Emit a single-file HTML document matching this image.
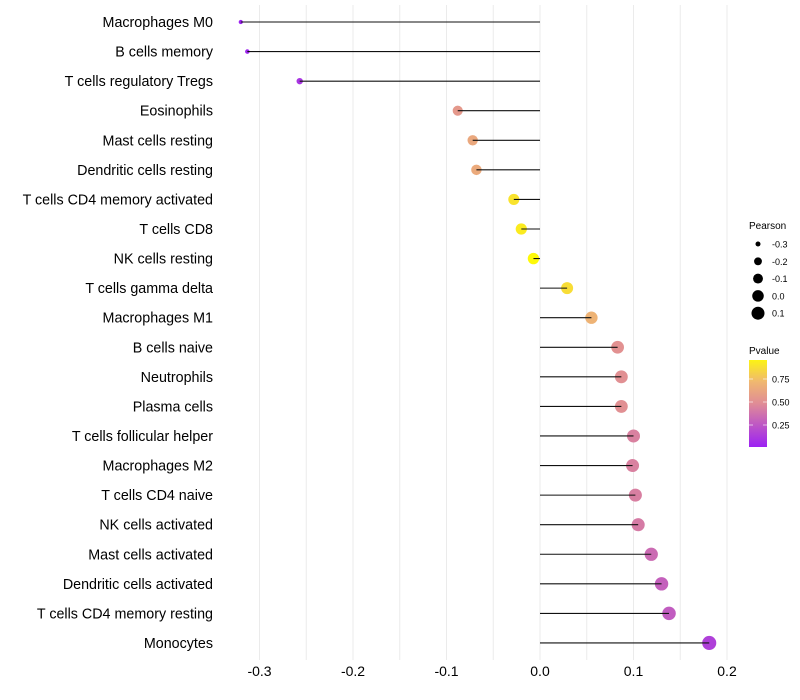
<!DOCTYPE html>
<html><head><meta charset="utf-8"><style>
html,body{margin:0;padding:0;background:#fff;}
svg{display:block;font-family:"Liberation Sans",sans-serif;}
</style></head><body>
<svg id="chart" width="800" height="700"></svg>
<script>
const categories=["Macrophages M0","B cells memory","T cells regulatory  Tregs","Eosinophils","Mast cells resting","Dendritic cells resting","T cells CD4 memory activated","T cells CD8","NK cells resting","T cells gamma delta","Macrophages M1","B cells naive","Neutrophils","Plasma cells","T cells follicular helper","Macrophages M2","T cells CD4 naive","NK cells activated","Mast cells activated","Dendritic cells activated","T cells CD4 memory resting","Monocytes"];
const pearson=[-0.320,-0.313,-0.257,-0.088,-0.072,-0.068,-0.028,-0.020,-0.007,0.029,0.055,0.083,0.087,0.087,0.100,0.099,0.102,0.105,0.119,0.130,0.138,0.181];
const pvalues=[0.02,0.03,0.10,0.57,0.66,0.67,0.90,0.93,0.98,0.88,0.72,0.53,0.52,0.52,0.45,0.45,0.44,0.42,0.35,0.30,0.28,0.15];
const xTicks=[-0.3,-0.2,-0.1,0.0,0.1,0.2];
const xTickLabels=["-0.3","-0.2","-0.1","0.0","0.1","0.2"];
const xGrid=[-0.3,-0.25,-0.2,-0.15,-0.1,-0.05,0,0.05,0.1,0.15,0.2];
const sizeBreaks=[-0.3,-0.2,-0.1,0.0,0.1];
const colorBreaks=[0.75,0.50,0.25];

const NS="http://www.w3.org/2000/svg";
const svg=document.getElementById('chart');
const X=v=>540+v*935;
const Y=i=>22+i*29.57;
const R=v=>Math.sqrt(4.5+90*(v+0.32));
function lerp(a,b,t){return a.map((x,i)=>Math.round(x+(b[i]-x)*t));}
function col(p){
  const s=[[0,[154,31,245]],[0.5,[224,140,150]],[0.75,[240,184,112]],[1,[255,255,0]]];
  for(let i=0;i<s.length-1;i++){if(p<=s[i+1][0]){const t=(p-s[i][0])/(s[i+1][0]-s[i][0]);const c=lerp(s[i][1],s[i+1][1],t);return `rgb(${c})`;}}
  return 'rgb(255,255,0)';
}
function mk(tag,attrs,parent){const e=document.createElementNS(NS,tag);for(const k in attrs)e.setAttribute(k,attrs[k]);(parent||svg).appendChild(e);return e;}

xGrid.forEach(v=>{
  const l=mk('line',{x1:X(v),x2:X(v),y1:5,y2:660,stroke:'#ebebeb','stroke-width':1});
  
  
});
xTicks.forEach((v,i)=>{
  const t=mk('text',{x:X(v),y:676,'text-anchor':'middle','font-size':14,fill:'#000'});
  t.textContent=xTickLabels[i];
  
  
});
categories.forEach((c,i)=>{
  const t=mk('text',{x:213,y:Y(i)+5,'text-anchor':'end','font-size':14.3,fill:'#000'});
  t.textContent=c;
  
  
  const d=mk('circle',{cx:X(pearson[i]),cy:Y(i),r:R(pearson[i]),fill:col(pvalues[i])});
  
  
  const l=mk('line',{x1:X(0),x2:X(pearson[i]),y1:Y(i),y2:Y(i),stroke:'#111','stroke-width':1.1});
  
  
});
const lt=mk('text',{x:749,y:229,'font-size':10});lt.textContent='Pearson';


sizeBreaks.forEach((v,i)=>{
  const y=244+i*17.3;
  const c=mk('circle',{cx:758,cy:y,r:R(v),fill:'#000'});
  
  
  const t=mk('text',{x:772,y:y+3.5,'font-size':9});t.textContent=v.toFixed(1);
  
  
});
const pt=mk('text',{x:749,y:354,'font-size':10});pt.textContent='Pvalue';


const defs=mk('defs',{});
const g=mk('linearGradient',{id:'pg',x1:0,y1:1,x2:0,y2:0},defs);
[[0,0.011],[0.25,0.25],[0.5,0.5],[0.75,0.75],[1,0.956]].forEach(([o,p])=>mk('stop',{offset:o,'stop-color':col(p)},g));
const bar=mk('rect',{x:749,y:360,width:18,height:87,fill:'url(#pg)'});


colorBreaks.forEach(v=>{
  const y=425-(v-0.25)/0.25*23;
  mk('line',{x1:749,x2:753,y1:y,y2:y,stroke:'#fff','stroke-width':0.6});
  mk('line',{x1:763,x2:767,y1:y,y2:y,stroke:'#fff','stroke-width':0.6});
  const t=mk('text',{x:772,y:y+3.5,'font-size':9});t.textContent=v.toFixed(2);
  
  
});
</script>
</body></html>
